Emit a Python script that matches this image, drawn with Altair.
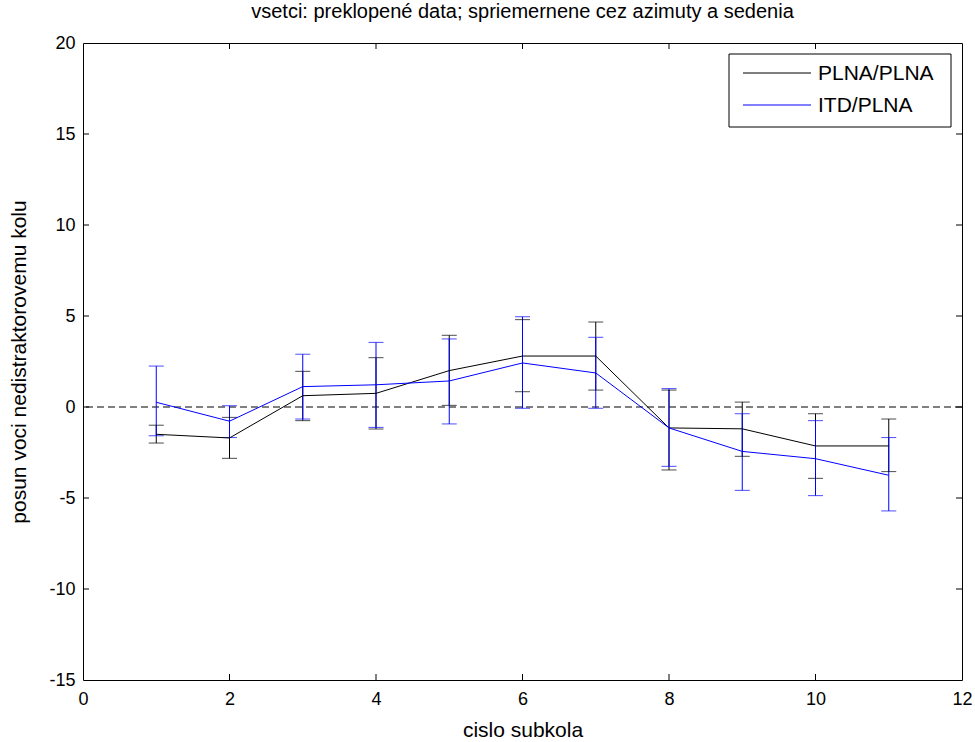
import altair as alt
import pandas as pd

# ---- data ----
subkolo = [1, 2, 3, 4, 5, 6, 7, 8, 9, 10, 11]
plna_mean = [-1.5, -1.7, 0.62, 0.75, 2.0, 2.8, 2.8, -1.15, -1.2, -2.14, -2.14]
plna_low = [-1.98, -2.82, -0.75, -1.21, 0.09, 0.84, 0.93, -3.46, -2.71, -3.92, -3.55]
plna_high = [-1.0, -0.57, 1.96, 2.71, 3.94, 4.8, 4.67, 0.93, 0.27, -0.37, -0.66]

itd_mean = [0.26, -0.78, 1.12, 1.22, 1.43, 2.42, 1.87, -1.15, -2.44, -2.84, -3.75]
itd_low = [-1.58, -1.68, -0.66, -1.12, -0.93, -0.07, -0.07, -3.26, -4.58, -4.87, -5.71]
itd_high = [2.25, 0.07, 2.9, 3.55, 3.74, 4.96, 3.83, 1.01, -0.37, -0.75, -1.68]

series_names = ["PLNA/PLNA", "ITD/PLNA"]
series_colors = ["#000000", "#0000FF"]

x_ticks = [0, 2, 4, 6, 8, 10, 12]
y_ticks = [-15, -10, -5, 0, 5, 10, 15, 20]

title_text = "vsetci: preklopené data; spriemernene cez azimuty a sedenia"
x_title = "cislo subkola"
y_title = "posun voci nedistraktorovemu kolu"

rows = []
for name, m, lo, hi in [
    (series_names[0], plna_mean, plna_low, plna_high),
    (series_names[1], itd_mean, itd_low, itd_high),
]:
    for x, a, b, c in zip(subkolo, m, lo, hi):
        rows.append({"x": x, "mean": a, "low": b, "high": c, "serie": name})
df = pd.DataFrame(rows)

W, H = 879, 637
FONT = "Liberation Sans"
TXT = 20

xs = alt.Scale(domain=[0, 12], nice=False, zero=False)
ys = alt.Scale(domain=[-15, 20], nice=False, zero=False)
color = alt.Color(
    "serie:N",
    scale=alt.Scale(domain=series_names, range=series_colors),
    sort=series_names,
    legend=None,
)

base = alt.Chart(df)

lines = base.mark_line(strokeWidth=1).encode(
    x=alt.X(
        "x:Q",
        scale=xs,
        title=x_title,
        axis=alt.Axis(values=x_ticks, tickSize=0, labelPadding=10, grid=False,
                      labelFlush=False, titleFontSize=21,
                      titlePadding=11, domain=False, labelExpr="datum.value + ''"),
    ),
    y=alt.Y(
        "mean:Q",
        scale=ys,
        title=y_title,
        axis=alt.Axis(values=y_ticks, tickSize=0, labelPadding=8, grid=False,
                      labelFlush=False, titleFontSize=21,
                      titlePadding=19, domain=False, labelExpr="datum.value + ''"),
    ),
    color=color,
    order="x:Q",
)

bars = base.mark_rule(strokeWidth=1).encode(
    x=alt.X("x:Q", scale=xs),
    y=alt.Y("low:Q", scale=ys),
    y2="high:Q",
    color=color,
)
cap_lo = base.mark_tick(orient="horizontal", size=15, thickness=1).encode(
    x=alt.X("x:Q", scale=xs),
    y=alt.Y("low:Q", scale=ys),
    color=color,
)
cap_hi = base.mark_tick(orient="horizontal", size=15, thickness=1).encode(
    x=alt.X("x:Q", scale=xs),
    y=alt.Y("high:Q", scale=ys),
    color=color,
)

zero_line = alt.Chart(pd.DataFrame({"y": [0]})).mark_rule(
    color="black", strokeWidth=1, strokeDash=[7, 4]
).encode(y=alt.Y("y:Q", scale=ys))

# inward ticks on all four sides
xt = pd.DataFrame({"x": x_ticks[1:-1]})
yt = pd.DataFrame({"y": y_ticks[1:-1]})
TL = 6
xtick_b = alt.Chart(xt).mark_rule(color="black", strokeWidth=1).encode(
    x=alt.X("x:Q", scale=xs), y=alt.value(H), y2=alt.value(H - TL))
xtick_t = alt.Chart(xt).mark_rule(color="black", strokeWidth=1).encode(
    x=alt.X("x:Q", scale=xs), y=alt.value(0), y2=alt.value(TL))
ytick_l = alt.Chart(yt).mark_rule(color="black", strokeWidth=1).encode(
    y=alt.Y("y:Q", scale=ys), x=alt.value(0), x2=alt.value(TL))
ytick_r = alt.Chart(yt).mark_rule(color="black", strokeWidth=1).encode(
    y=alt.Y("y:Q", scale=ys), x=alt.value(W), x2=alt.value(W - TL))

# MATLAB-style legend box (top right, inside the axes)
leg = pd.DataFrame({"serie": series_names, "row": [0, 1]})
LX0, LX1, LY0, LY1 = 646, 868, 11, 84
ROW_Y = [30, 62]
leg_box = alt.Chart(pd.DataFrame({"a": [0]})).mark_rect(
    fill="white", stroke="black", strokeWidth=1
).encode(x=alt.value(LX0), x2=alt.value(LX1), y=alt.value(LY0), y2=alt.value(LY1))
leg_lines = []
leg_texts = []
for i, name in enumerate(series_names):
    d = alt.Chart(leg[leg.serie == name])
    leg_lines.append(
        d.mark_rule(strokeWidth=1, color=series_colors[i]).encode(
            x=alt.value(660), x2=alt.value(728), y=alt.value(ROW_Y[i]))
    )
    leg_texts.append(
        d.mark_text(align="left", baseline="middle", font=FONT, fontSize=21,
                    color="black").encode(
            x=alt.value(735), y=alt.value(ROW_Y[i] + 1), text="serie:N")
    )

chart = alt.layer(
    zero_line, xtick_b, xtick_t, ytick_l, ytick_r, bars, cap_lo, cap_hi, lines,
    leg_box, *leg_lines, *leg_texts
).properties(
    width=W,
    height=H,
    title=alt.TitleParams(title_text, anchor="middle"),
    autosize=alt.AutoSizeParams(type="none"),
    padding={"left": 83, "top": 43, "right": 13, "bottom": 62},
).configure(
    background="white",
    view=alt.ViewConfig(stroke="black", strokeWidth=1),
    title=alt.TitleConfig(font=FONT, fontSize=TXT, fontWeight="normal",
                          color="black", offset=12),
    axis=alt.AxisConfig(
        labelFont=FONT, labelFontSize=18, labelColor="black",
        titleFont=FONT, titleFontSize=TXT, titleColor="black", titleFontWeight="normal",
    ),
)

chart.save("out.html", embed_options={"renderer": "svg", "actions": False})
